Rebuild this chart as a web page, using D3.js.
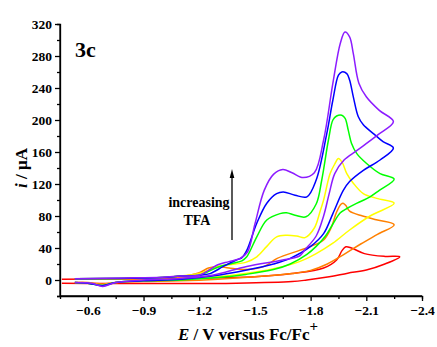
<!DOCTYPE html>
<html>
<head>
<meta charset="utf-8">
<script src="https://cdn.jsdelivr.net/npm/d3@7"></script>
<style>
  body { margin: 0; background: #fff; }
  svg text { font-family: "Liberation Serif", "Times New Roman", serif; font-weight: bold; }
</style>
</head>
<body>
<svg id="chart" width="437" height="347"></svg>
<script>
// potential E (V vs Fc/Fc+) and current i (uA), forward (cathodic) then reverse sweep
const redFwd = [[-0.46,1],[-0.8,1.5],[-1.2,2.5],[-1.5,4],[-1.7,8],[-1.87,15],[-1.94,25],[-1.97,37],[-1.99,41.5],[-2.02,40],[-2.09,33],[-2.2,29.5],[-2.28,29]];
const redRev = [[-2.2,20],[-2.1,12.5],[-2.0,8.5],[-1.9,4],[-1.78,0],[-1.7,-2],[-1.4,-4],[-1.0,-4.5],[-0.7,-4.5],[-0.46,-4]];

const orangeFwd = [[-0.53,1],[-1.0,2],[-1.1,4],[-1.2,9],[-1.25,15],[-1.3,17],[-1.36,15],[-1.45,13],[-1.55,17],[-1.62,27],[-1.74,37],[-1.8,42],[-1.87,50],[-1.91,65],[-1.94,85],[-1.965,95],[-1.975,96],[-1.99,93],[-2.01,86],[-2.08,80],[-2.16,75],[-2.25,69]];
const orangeRev = [[-2.16,57],[-2.07,45],[-1.98,32],[-1.89,20],[-1.8,12],[-1.7,8],[-1.5,4],[-1.3,1],[-1.1,-1],[-0.9,-2],[-0.75,-3],[-0.68,-5],[-0.6,-3],[-0.53,-3]];

const yellowFwd = [[-0.53,1.5],[-1.0,3],[-1.1,5],[-1.2,8],[-1.3,17],[-1.45,22],[-1.51,29],[-1.564,42],[-1.617,54],[-1.67,56],[-1.725,55],[-1.77,53],[-1.82,65],[-1.85,85],[-1.87,100],[-1.905,133],[-1.93,145],[-1.95,152],[-1.97,147],[-1.995,133],[-2.03,121],[-2.084,108],[-2.156,102],[-2.25,96]];
const yellowRev = [[-2.12,80],[-2.01,62.5],[-1.92,46],[-1.83,33],[-1.74,23],[-1.6,14],[-1.45,8],[-1.3,4],[-1.1,1],[-0.9,-1],[-0.75,-3],[-0.68,-6],[-0.6,-4],[-0.53,-3]];

const greenFwd = [[-0.53,1.5],[-1.0,3],[-1.1,5],[-1.2,6],[-1.3,16],[-1.38,21],[-1.43,24],[-1.456,29],[-1.51,54],[-1.564,75],[-1.635,83],[-1.67,84],[-1.716,81],[-1.775,79],[-1.83,95],[-1.86,125],[-1.896,175],[-1.92,200],[-1.94,205],[-1.968,206],[-1.986,202],[-2.003,187],[-2.02,171],[-2.049,158],[-2.1,146],[-2.174,133],[-2.25,126]];
const greenRev = [[-2.17,112],[-2.12,104],[-2.05,96],[-2.0,90],[-1.96,84],[-1.92,70],[-1.88,55],[-1.83,42],[-1.78,32],[-1.69,20],[-1.6,13],[-1.45,7],[-1.3,3],[-1.1,0],[-0.9,-1],[-0.75,-3],[-0.68,-7],[-0.6,-4],[-0.53,-3]];

const blueFwd = [[-0.53,1.5],[-1.0,3],[-1.1,5],[-1.2,6],[-1.258,8],[-1.33,17],[-1.4,25],[-1.43,28],[-1.456,37],[-1.51,71],[-1.564,96],[-1.617,108],[-1.653,110],[-1.716,106],[-1.78,104],[-1.83,125],[-1.887,183],[-1.92,225],[-1.95,256],[-1.968,260],[-1.995,258],[-2.01,250],[-2.03,229],[-2.057,204],[-2.084,194],[-2.138,183],[-2.19,173],[-2.246,165]];
const blueRev = [[-2.174,150],[-2.084,137],[-2.01,123],[-1.976,112],[-1.92,83],[-1.87,58],[-1.8,42],[-1.69,27],[-1.6,20],[-1.456,12.5],[-1.27,5],[-1.1,1],[-0.9,-1],[-0.75,-3],[-0.68,-7],[-0.6,-4],[-0.53,-3]];

const purpleFwd = [[-0.53,1.5],[-0.8,2.5],[-1.0,3.5],[-1.1,5],[-1.2,6],[-1.25,12],[-1.3,19],[-1.36,23],[-1.42,27],[-1.46,35],[-1.5,70],[-1.55,112],[-1.6,132],[-1.65,138],[-1.7,134],[-1.76,128],[-1.82,134],[-1.87,175],[-1.92,246],[-1.96,296],[-1.985,310],[-2.01,304],[-2.03,283],[-2.06,246],[-2.1,229],[-2.17,212],[-2.246,198]];
const purpleRev = [[-2.16,181],[-2.05,162],[-1.98,150],[-1.93,133],[-1.9,108],[-1.87,80],[-1.83,55],[-1.77,38],[-1.74,30],[-1.65,25],[-1.456,17],[-1.27,6],[-1.1,2],[-0.9,0],[-0.75,-3],[-0.68,-8],[-0.62,-4],[-0.53,-3]];

const curveColors = ["#ff0000", "#ff8000", "#ffff00", "#00ff00", "#0000ff", "#8c1cff"];
const curveData = [
  redFwd.concat(redRev), orangeFwd.concat(orangeRev), yellowFwd.concat(yellowRev),
  greenFwd.concat(greenRev), blueFwd.concat(blueRev), purpleFwd.concat(purpleRev)
];

const xMajor = [-0.6, -0.9, -1.2, -1.5, -1.8, -2.1, -2.4];
const xMinor = [-0.75, -1.05, -1.35, -1.65, -1.95, -2.25];
const yMajor = [0, 40, 80, 120, 160, 200, 240, 280, 320];
const yMinor = [-20, 20, 60, 100, 140, 180, 220, 260, 300];

const svg = d3.select("#chart");
const x = d3.scaleLinear().domain([-0.45, -2.4]).range([60, 422]);
const y = d3.scaleLinear().domain([-20, 320]).range([296, 24]);

// axes
const xAxis = svg.append("g").attr("transform", "translate(0,296)")
  .call(d3.axisBottom(x).tickValues(xMajor).tickSize(5).tickPadding(4).tickFormat(d3.format(".1f")));
svg.append("g").attr("transform", "translate(0,296)")
  .call(d3.axisBottom(x).tickValues(xMinor).tickSize(3).tickFormat(""));
const yAxis = svg.append("g").attr("transform", "translate(60,0)")
  .call(d3.axisLeft(y).tickValues(yMajor).tickSize(5).tickPadding(3));
svg.append("g").attr("transform", "translate(60,0)")
  .call(d3.axisLeft(y).tickValues(yMinor).tickSize(3).tickFormat(""));

svg.selectAll("g").attr("font-family", null);
svg.selectAll(".domain").attr("stroke", "#000").attr("stroke-width", 1.3);
svg.selectAll(".tick line").attr("stroke", "#000").attr("stroke-width", 1.3);
svg.selectAll(".tick text").attr("fill", "#000")
  .style("font-size", "13.5px").style("font-weight", "bold")
  .style("font-family", "'Liberation Serif', serif");
xAxis.selectAll(".domain").attr("d", "M60,0H422");
yAxis.selectAll(".domain").attr("d", "M0,296V24");

// curves
const line = d3.line()
  .x(d => x(d[0]))
  .y(d => y(d[1]))
  .curve(d3.curveCatmullRom.alpha(0.5));

svg.append("g").selectAll("path")
  .data(curveData)
  .join("path")
  .attr("d", d => line(d))
  .attr("fill", "none")
  .attr("stroke", (d, i) => curveColors[i])
  .attr("stroke-width", 1.5)
  .attr("stroke-linejoin", "round");

// labels
svg.append("text").attr("x", 75).attr("y", 57).style("font-size", "22px").text("3c");

svg.append("text").attr("x", 199).attr("y", 207).attr("text-anchor", "middle")
  .style("font-size", "14px").text("increasing");
svg.append("text").attr("x", 197).attr("y", 225).attr("text-anchor", "middle")
  .style("font-size", "14px").text("TFA");

svg.append("line").attr("x1", 232).attr("x2", 232).attr("y1", 240).attr("y2", 176)
  .attr("stroke", "#000").attr("stroke-width", 1.3);
svg.append("path").attr("d", "M232,169 L234.3,178 L229.7,178 Z").attr("fill", "#000");

// axis titles
const xt = svg.append("text").attr("x", 248).attr("y", 340).attr("text-anchor", "middle")
  .style("font-size", "17px");
xt.append("tspan").style("font-style", "italic").text("E");
xt.append("tspan").text(" / V versus Fc/Fc");
xt.append("tspan").attr("dy", -9).style("font-size", "15px").text("+");

const yt = svg.append("text").attr("transform", "translate(27,168) rotate(-90)")
  .attr("text-anchor", "middle").style("font-size", "17px");
yt.append("tspan").style("font-style", "italic").text("i");
yt.append("tspan").text(" / μA");
</script>
</body>
</html>
